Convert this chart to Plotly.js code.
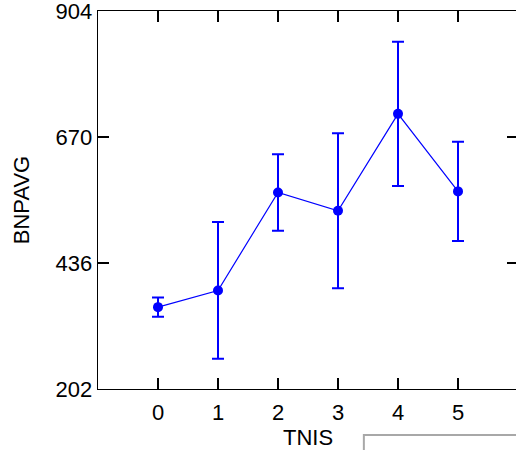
<!DOCTYPE html>
<html>
<head>
<meta charset="utf-8">
<script src="https://cdn.plot.ly/plotly-3.0.1.min.js"></script>
<style>
html, body { margin:0; padding:0; overflow:hidden; background:#fff; }
#chart { width:530px; height:450px; }
</style>
</head>
<body>
<div id="chart"></div>
<script>
var tnis = [0, 1, 2, 3, 4, 5];
var bnpavg = [354, 385, 567, 533, 713, 569];
var bnpErr = [18, 127, 71, 144, 134, 92];
var xTicks = [0, 1, 2, 3, 4, 5];
var yTicks = [202, 436, 670, 904];

var trace = {
  x: tnis,
  y: bnpavg,
  type: 'scatter',
  mode: 'lines+markers',
  name: 'BNPAVG',
  line: {color: '#0000ff', width: 1.2},
  marker: {color: '#0000ff', size: 10},
  error_y: {type: 'data', array: bnpErr, visible: true, color: '#0000ff', thickness: 2, width: 6}
};

var layout = {
  width: 530,
  height: 450,
  margin: {l: 98, r: 12, t: 11, b: 61, pad: 0},
  paper_bgcolor: '#ffffff',
  plot_bgcolor: '#ffffff',
  showlegend: false,
  font: {family: 'Liberation Sans, Arial, sans-serif', size: 22, color: '#000'},
  xaxis: {
    range: [-1, 6],
    tickvals: xTicks,
    ticktext: xTicks.map(String),
    ticks: 'inside', ticklen: 11, tickwidth: 1.3, tickcolor: '#000',
    showline: true, linecolor: '#000', linewidth: 1.3, mirror: 'ticks',
    showgrid: false, zeroline: false,
    tickfont: {size: 22},
    ticklabelstandoff: 3,
    ticklabeloverflow: 'allow',
    title: {text: 'TNIS', font: {size: 22}, standoff: 2}
  },
  yaxis: {
    range: [202, 904],
    tickvals: yTicks,
    ticktext: yTicks.map(String),
    ticks: 'inside', ticklen: 11, tickwidth: 1.3, tickcolor: '#000',
    showline: true, linecolor: '#000', linewidth: 1.3, mirror: 'ticks',
    showgrid: false, zeroline: false,
    tickfont: {size: 22},
    ticklabeloverflow: 'allow',
    title: {text: 'BNPAVG', font: {size: 22}, standoff: 20}
  },
  shapes: [{
    type: 'rect', xref: 'paper', yref: 'paper',
    x0: 0.633, x1: 1.3, y0: -0.1217, y1: -0.4,
    line: {color: '#a8a8a8', width: 2}, fillcolor: 'rgba(0,0,0,0)'
  }]
};

Plotly.newPlot('chart', [trace], layout, {displayModeBar: false, staticPlot: true});
</script>
</body>
</html>
